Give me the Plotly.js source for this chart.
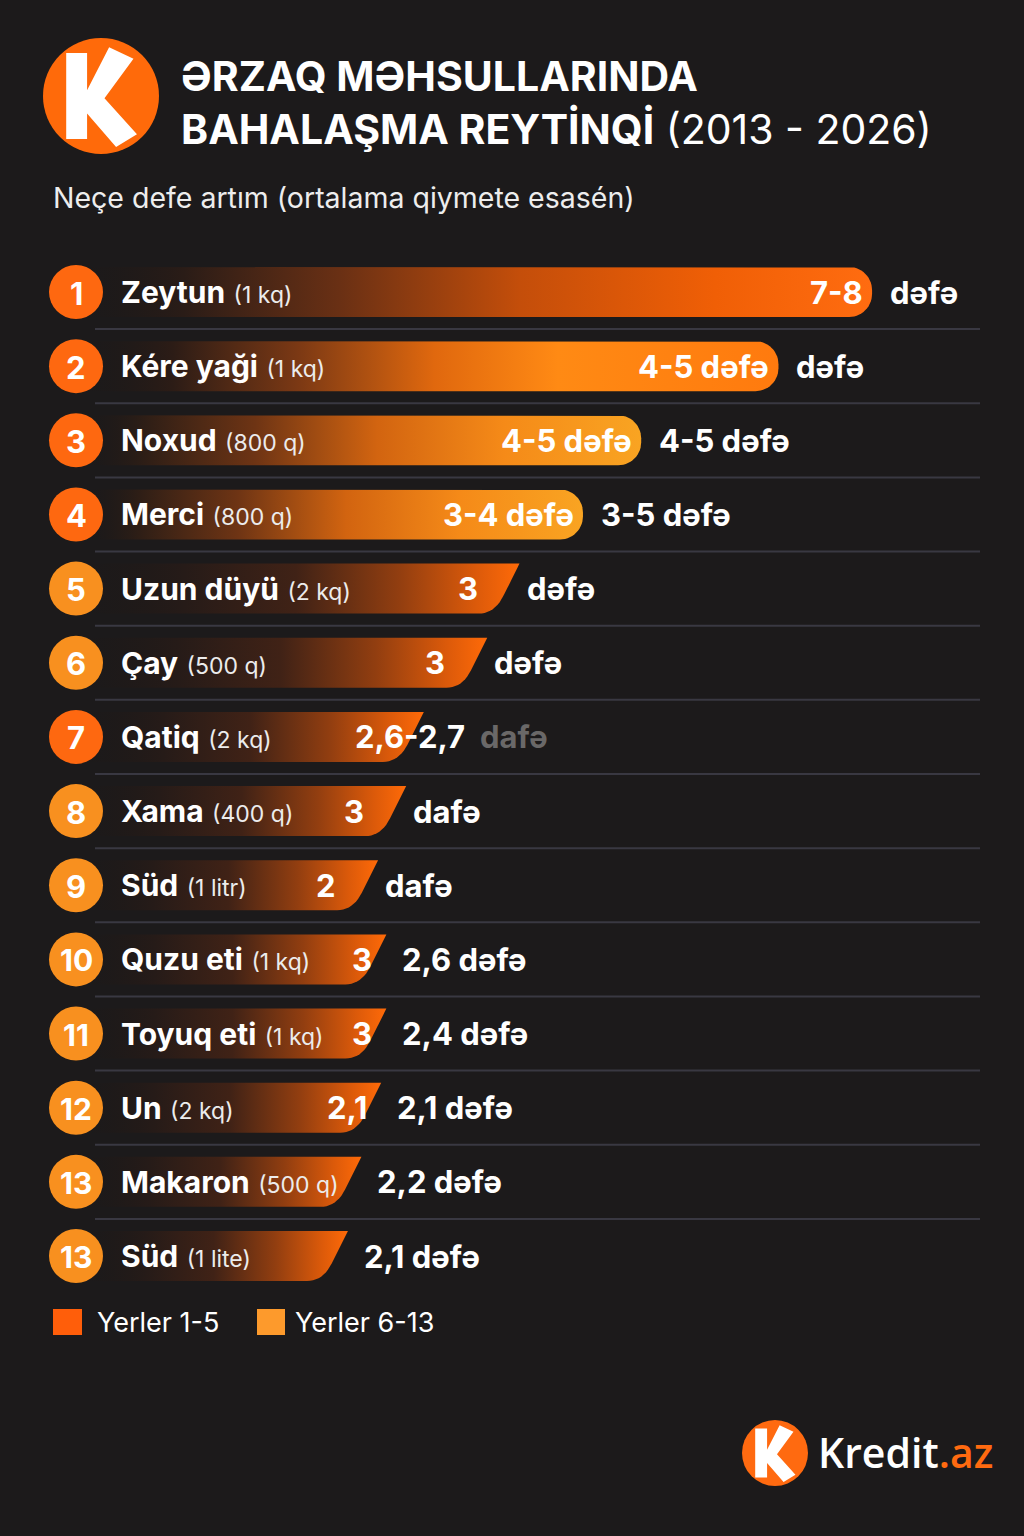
<!DOCTYPE html>
<html><head><meta charset="utf-8">
<script src="https://cdn.plot.ly/plotly-3.0.1.min.js"></script>
<style>html,body{margin:0;padding:0;background:#1c1a1b;}#chart{width:1024px;height:1536px;}</style>
</head><body><div id="chart"></div>
<script>
// ---------- DATA ----------
const ranks = ['1','2','3','4','5','6','7','8','9','10','11','12','13','13'];
const products = ['Zeytun','Kére yaği','Noxud','Merci','Uzun düyü','Çay','Qatiq','Xama','Süd','Quzu eti','Toyuq eti','Un','Makaron','Süd'];
const units = ['(1 kq)','(1 kq)','(800 q)','(800 q)','(2 kq)','(500 q)','(2 kq)','(400 q)','(1 litr)','(1 kq)','(1 kq)','(2 kq)','(500 q)','(1 lite)'];
const barValues = [7.52, 6.62, 5.30, 4.74, 4.13, 3.82, 3.21, 3.04, 2.77, 2.85, 2.85, 2.80, 2.61, 2.48];
const innerLabels = ['7-8','4-5 dəfə','4-5 dəfə','3-4 dəfə','3','3','2,6-2,7','3','2','3','3','2,1','',''];
const outerLabels = ['dəfə','dəfə','4-5 dəfə','3-5 dəfə','dəfə','dəfə','dafə','dafə','dafə','2,6 dəfə','2,4 dəfə','2,1 dəfə','2,2 dəfə','2,1 dəfə'];
const circleTier = [1,1,1,1,2,2,1,2,2,2,2,2,2,2];
const legendLabels = ['Yerler 1-5','Yerler 6-13'];

// ---------- LAYOUT HELPERS ----------
const W = 1024, H = 1536;
const X0PX = 90, UNIT = 104;
const ROW0 = 292, ROWN = 1256;
const n = products.length;
const rowStep = (ROWN - ROW0) / (n - 1);
const xRange = [-X0PX / UNIT, (W - X0PX) / UNIT];
const yRange = [(H - ROW0) / rowStep, -ROW0 / rowStep];
const px = x => x / W, py = y => 1 - y / H;
const HALF = 25 / rowStep;
const FONT = "Inter, 'Noto Sans', 'DejaVu Sans', sans-serif";
const idx = products.map((_, i) => i);

function capsule(v, i) {
  const r = 23, rx = r / UNIT, ry = r / rowStep;
  const top = i - HALF, bot = i + HALF, cx = v - rx;
  const xs = [0], ys = [top];
  for (let k = 0; k <= 14; k++) { const t = k / 14 * Math.PI / 2; xs.push(cx + rx * Math.sin(t)); ys.push(top + ry - ry * Math.cos(t)); }
  for (let k = 0; k <= 14; k++) { const t = k / 14 * Math.PI / 2; xs.push(cx + rx * Math.cos(t)); ys.push(bot - ry + ry * Math.sin(t)); }
  xs.push(0, 0); ys.push(bot, top);
  return { xs, ys };
}
function slant(v, i) {
  const s = 25 / UNIT;
  const top = i - HALF, bot = i + HALF;
  const xs = [0, v], ys = [top, top];
  const ax = v - s * 0.65, ay = top + 0.65 * (bot - top);
  const cx = v - s, cy = bot, bx = v - s - 16 / UNIT, by = bot;
  for (let k = 0; k <= 10; k++) {
    const t = k / 10;
    xs.push((1 - t) * (1 - t) * ax + 2 * (1 - t) * t * cx + t * t * bx);
    ys.push((1 - t) * (1 - t) * ay + 2 * (1 - t) * t * cy + t * t * by);
  }
  xs.push(0, 0); ys.push(bot, top);
  return { xs, ys };
}

const gradHot = [[0,'rgba(30,24,22,0.1)'],[0.12,'#2a1c17'],[0.32,'#6a3014'],[0.55,'#c44e0a'],[0.8,'#f05f06'],[1,'#ff6c10']];
const gradBright = [[0,'rgba(30,24,22,0.1)'],[0.12,'#2c1c16'],[0.3,'#7a3814'],[0.5,'#e0680e'],[0.68,'#ff8a14'],[1,'#ff7a0e']];
const gradAmber = [[0,'rgba(30,24,22,0.1)'],[0.1,'#2e1e16'],[0.3,'#6e3414'],[0.52,'#d26410'],[0.75,'#f58a18'],[1,'#f9a422']];
const gradSlant = [[0,'rgba(30,24,22,0.1)'],[0.22,'#261b18'],[0.48,'#402216'],[0.72,'#923e10'],[0.9,'#dc5a0a'],[1,'#ff6a08']];
function gradFor(i) { return i === 0 ? gradHot : i === 1 ? gradBright : i < 4 ? gradAmber : gradSlant; }

const traces = [];
idx.forEach(i => {
  const shape = i < 4 ? capsule(barValues[i], i) : slant(barValues[i], i);
  traces.push({
    type: 'scatter', mode: 'lines', x: shape.xs, y: shape.ys,
    fill: 'toself', line: { width: 0, color: 'rgba(0,0,0,0)' },
    fillgradient: { type: 'horizontal', colorscale: gradFor(i) },
    hoverinfo: 'skip', showlegend: false
  });
});
const CIRCLE_X = (76 - X0PX) / UNIT;
traces.push({
  type: 'scatter', mode: 'markers',
  x: idx.map(() => CIRCLE_X), y: idx,
  marker: { size: 54, color: circleTier.map(t => t === 1 ? '#fe6810' : '#f8901f'), line: { width: 0 } },
  hoverinfo: 'skip', showlegend: false, cliponaxis: false
});

// ---------- ANNOTATIONS ----------
const ann = [];
idx.forEach(i => {
  ann.push({
    xref: 'x', yref: 'y', x: CIRCLE_X, y: i, xanchor: 'center', yanchor: 'middle', yshift: -1, showarrow: false,
    text: `<b>${ranks[i]}</b>`, font: { family: FONT, size: ranks[i].length > 1 ? 30 : 31, color: '#ffffff' }
  });
  ann.push({
    xref: 'paper', yref: 'y', x: px(119), y: i, xanchor: 'left', yanchor: 'middle', showarrow: false,
    text: `<b>${products[i]}</b> <span style="font-size:23px;color:#ececec">${units[i]}</span>`,
    font: { family: FONT, size: 30, color: '#ffffff' }
  });
  const spill = i === 6;
  if (innerLabels[i]) {
    let sh = i < 4 ? -7 : i < 9 ? -40 : -12;
    if (spill) sh = 43;
    ann.push({
      xref: 'x', yref: 'y', x: barValues[i], y: i, xanchor: 'right', yanchor: 'middle', xshift: sh, showarrow: false,
      text: `<b>${innerLabels[i]}</b>`, font: { family: FONT, size: 31, color: '#ffffff' }
    });
  }
  let osh = i < 4 ? 16 : i < 9 ? 5 : 14;
  if (spill) osh = 54;
  ann.push({
    xref: 'x', yref: 'y', x: barValues[i], y: i, xanchor: 'left', yanchor: 'middle', xshift: osh, showarrow: false,
    text: `<b>${outerLabels[i]}</b>`, font: { family: FONT, size: 31, color: spill ? '#6a6868' : '#ffffff' }
  });
});
ann.push({
  xref: 'paper', yref: 'paper', x: px(51), y: py(197), xanchor: 'left', yanchor: 'middle', showarrow: false,
  text: 'Neçe defe artım (ortalama qiymete esasén)', font: { family: FONT, size: 28.5, color: '#ededed' }
});
ann.push({
  xref: 'paper', yref: 'paper', x: px(95), y: py(1322), xanchor: 'left', yanchor: 'middle', showarrow: false,
  text: legendLabels[0], font: { family: FONT, size: 27, color: '#ffffff' }
});
ann.push({
  xref: 'paper', yref: 'paper', x: px(293), y: py(1322), xanchor: 'left', yanchor: 'middle', showarrow: false,
  text: legendLabels[1], font: { family: FONT, size: 27, color: '#ffffff' }
});
ann.push({
  xref: 'paper', yref: 'paper', x: px(816), y: py(1452), xanchor: 'left', yanchor: 'middle', showarrow: false,
  text: 'Kredit<span style="color:#ff6a10">.az</span>', font: { family: "'Open Sans', sans-serif", size: 41, color: '#ffffff', weight: 600 }
});

// ---------- SHAPES ----------
const shapes = [];
for (let i = 0; i < n - 1; i++) {
  shapes.push({ type: 'line', layer: 'below', xref: 'paper', yref: 'y', x0: px(95), x1: px(980), y0: i + 0.5, y1: i + 0.5, line: { color: '#393842', width: 2 } });
}
shapes.push({ type: 'rect', xref: 'paper', yref: 'paper', x0: px(53), x1: px(82), y0: py(1335), y1: py(1309), fillcolor: '#ff5e0a', line: { width: 0 } });
shapes.push({ type: 'rect', xref: 'paper', yref: 'paper', x0: px(257), x1: px(285), y0: py(1335), y1: py(1309), fillcolor: '#fd9a2c', line: { width: 0 } });

const K_PTS = [[-0.60,-0.74],[-0.24,-0.74],[-0.24,-0.10],[0.14,-0.84],[0.56,-0.64],[0.06,0.04],[0.62,0.66],[0.26,0.88],[-0.24,0.30],[-0.24,0.74],[-0.60,0.74]];
function logo(cx, cy, r, color) {
  shapes.push({ type: 'circle', xref: 'paper', yref: 'paper', x0: px(cx - r), x1: px(cx + r), y0: py(cy + r), y1: py(cy - r), fillcolor: color, line: { width: 0 } });
  const path = K_PTS.map((p, k) => (k ? 'L' : 'M') + px(cx + p[0] * r).toFixed(5) + ',' + py(cy + p[1] * r).toFixed(5)).join(' ') + ' Z';
  shapes.push({ type: 'path', xref: 'paper', yref: 'paper', path, fillcolor: '#ffffff', line: { width: 0 } });
}
logo(101, 96, 58, '#ff6a0a');
logo(775, 1453, 33, '#ff6a10');

const layout = {
  width: W, height: H,
  margin: { l: 0, r: 0, t: 0, b: 0 },
  paper_bgcolor: '#1c1a1b', plot_bgcolor: '#1c1a1b',
  title: {
    text: '<b>ƏRZAQ MƏHSULLARINDA</b><br><b>BAHALAŞMA REYTİNQİ</b> (2013 - 2026)',
    x: px(181), xanchor: 'left', y: py(91), yanchor: 'middle', yref: 'container', xref: 'container',
    font: { family: FONT, size: 41, color: '#ffffff' }
  },
  xaxis: { range: xRange, domain: [0, 1], visible: false, fixedrange: true },
  yaxis: { range: yRange, domain: [0, 1], visible: false, fixedrange: true },
  showlegend: false, hovermode: false,
  annotations: ann, shapes
};
Plotly.newPlot('chart', traces, layout, { displayModeBar: false, staticPlot: true });
</script></body></html>
